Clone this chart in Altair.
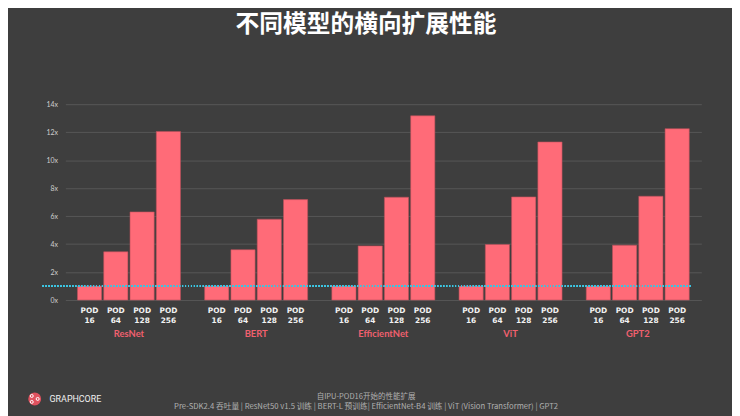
import altair as alt
import pandas as pd

models = ["ResNet", "BERT", "EfficientNet", "ViT", "GPT2"]
pods = ["16", "64", "128", "256"]
resnet = [1.0, 3.45, 6.3, 12.05]
bert = [1.0, 3.6, 5.78, 7.18]
efficientnet = [1.0, 3.87, 7.35, 13.17]
vit = [1.0, 3.97, 7.37, 11.3]
gpt2 = [1.0, 3.92, 7.42, 12.25]
baseline = 1.0
y_ticks = [0, 2, 4, 6, 8, 10, 12, 14]

title_text = "不同模型的横向扩展性能"
footer_1 = "自IPU-POD16开始的性能扩展"
footer_2 = "Pre-SDK2.4 吞吐量 | ResNet50 v1.5 训练 | BERT-L 预训练| EfficientNet-B4  训练 | ViT (Vision Transformer)  | GPT2"
logo_text = "GRAPHCORE"

series = [resnet, bert, efficientnet, vit, gpt2]
rows = []
for m, vals in zip(models, series):
    for p, v in zip(pods, vals):
        rows.append({"model": m, "pod": p, "value": v, "label": "POD\n" + p})
df = pd.DataFrame(rows)

W, H = 643, 198
BG = "#3e3e3e"
PINK = "#ff6b78"

x_axis = alt.Axis(labelColor="#f0606e", labelFontSize=9.5, labelFont="Lato",
                  labelFontWeight="bold", labelPadding=29, domain=False, ticks=False,
                  labelAngle=0)
x_enc = alt.X("model:N", sort=models, title=None,
              scale=alt.Scale(paddingInner=0.19, paddingOuter=0.095), axis=x_axis)
xo_enc = alt.XOffset("pod:N", sort=pods, scale=alt.Scale(paddingInner=0.08, paddingOuter=0))
y_axis = alt.Axis(values=y_ticks, labelExpr="datum.value + 'x'", labelColor="#cfcfcf",
                  labelFontSize=7, labelFont="Lato", labelPadding=8, labelOverlap=False,
                  gridColor="#575757", gridWidth=1, domain=False, ticks=False)
y_scale = alt.Scale(domain=[0, 14], nice=False)
y_enc = alt.Y("value:Q", title=None, scale=y_scale, axis=y_axis)

base = alt.Chart(df)

bars = base.mark_bar(color=PINK, stroke="#b9505a", strokeWidth=0.6).encode(
    x=x_enc, xOffset=xo_enc, y=y_enc
)

pod_labels = base.mark_text(color="#f2f2f2", fontSize=7.5, font="DejaVu Sans", fontWeight="bold",
                            lineBreak="\n", lineHeight=10.5, baseline="middle").encode(
    x=x_enc,
    xOffset=xo_enc,
    y=alt.value(H + 11),
    text="label:N",
)

rule = alt.Chart(df).mark_rule(
    color="#3ec8e4", strokeDash=[1, 2], strokeWidth=1
).encode(y=alt.Y(datum=baseline, type="quantitative", title=None, scale=y_scale, axis=y_axis),
         x=alt.value(-23), x2=alt.value(633))


def note(text, x, y, **kw):
    return alt.Chart(pd.DataFrame({"t": [text]})).mark_text(**kw).encode(
        x=alt.value(x), y=alt.value(y), text="t:N")


footer_a = note(footer_1, 304, H + 98, color="#b0b0b0", fontSize=7.6,
                font="Noto Sans CJK SC", baseline="middle")
footer_b = note(footer_2, 304, H + 108, color="#b0b0b0", fontSize=7.8,
                font="Noto Sans CJK SC", baseline="middle")


def dot(x, y, **kw):
    return alt.Chart(pd.DataFrame({"k": [0]})).mark_point(**kw).encode(
        x=alt.value(x), y=alt.value(y))


LY = H + 100
logo_circle = dot(-31, LY, filled=True, shape="circle", size=170, color="#e0525f", opacity=1)
ring1 = dot(-34, LY - 3, filled=False, shape="circle", size=9, color="white", strokeWidth=1, opacity=1)
ring2 = dot(-34, LY + 3, filled=False, shape="circle", size=9, color="white", strokeWidth=1, opacity=1)
ring3 = dot(-28, LY, filled=False, shape="circle", size=9, color="white", strokeWidth=1, opacity=1)

logo_label = note(logo_text, -16, LY, color="#f0f0f0", fontSize=9, font="Roboto",
                  align="left", baseline="middle")

chart = alt.layer(bars, rule, pod_labels, footer_a, footer_b, logo_circle, ring1, ring2, ring3,
                  logo_label).properties(
    width=W, height=H,
    background=BG,
    padding={"left": 58, "top": 95, "right": 31, "bottom": 115},
    autosize=alt.AutoSizeParams(type="none"),
    title=alt.Title(title_text, fontSize=24, font="Noto Sans CJK SC", fontWeight="bold",
                    color="white", anchor="middle", dx=-17.5, offset=64),
).configure_view(stroke=None)

chart.save("out.html", embed_options={"renderer": "svg", "actions": False})
